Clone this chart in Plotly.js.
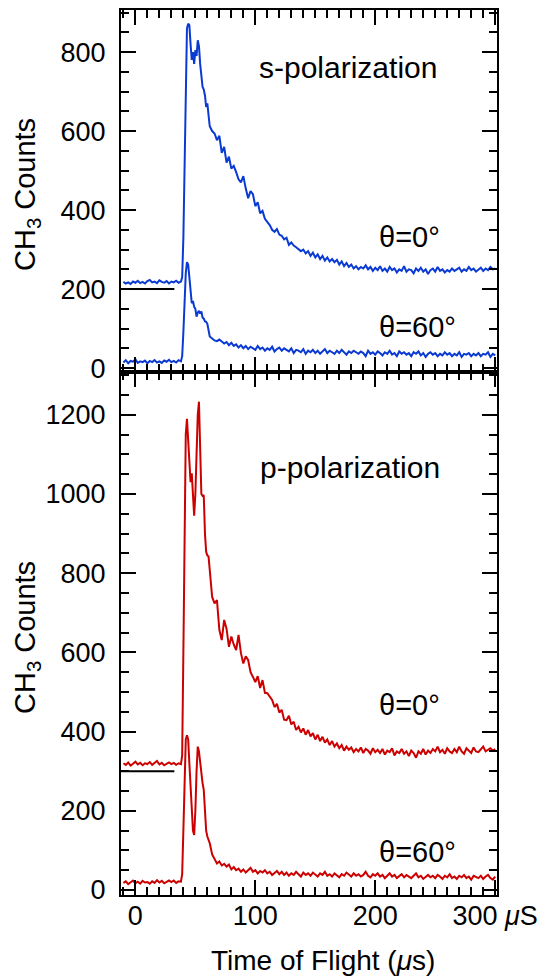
<!DOCTYPE html>
<html>
<head>
<meta charset="utf-8">
<script src="https://cdn.plot.ly/plotly-3.0.1.min.js"></script>
<style>html,body{margin:0;padding:0;background:#fff;}#chart{width:551px;height:979px;}</style>
</head>
<body>
<div id="chart"></div>
<script>
// Time of flight (microseconds)
const tof = [
  -10,-8,-6,-4,-2,0,2,4,6,8,
  10,12,14,16,18,20,22,24,26,28,
  30,32,34,36,38,39,40,41,42,43,
  44,45,46,47,48,49,50,51,52,53,
  54,55,56,57,58,59,60,61,62,64,
  66,68,70,72,74,76,78,80,82,84,
  86,88,90,92,94,96,98,100,102,104,
  106,108,110,112,114,116,118,120,122,124,
  126,128,130,132,134,136,138,140,142,144,
  146,148,150,152,154,156,158,160,162,164,
  166,168,170,172,174,176,178,180,182,184,
  186,188,190,192,194,196,198,200,202,204,
  206,208,210,212,214,216,218,220,222,224,
  226,228,230,232,234,236,238,240,242,244,
  246,248,250,252,254,256,258,260,262,264,
  266,268,270,272,274,276,278,280,282,284,
  286,288,290,292,294,296,298,300
];
// s-polarization, theta = 0 deg (offset by 200)
const s0 = [
  218,214,217,213,219,216,221,215,218,214,
  220,223,217,219,215,222,218,216,220,214,
  219,217,221,216,219,230,330,520,720,860,
  872,868,820,780,800,770,805,790,830,815,
  770,740,712,705,690,661,670,640,612,600,
  594,577,588,545,560,520,535,505,512,496,
  478,470,486,455,430,448,440,410,420,392,
  398,378,370,362,350,345,352,338,335,326,
  330,312,318,310,306,302,296,300,290,296,
  284,292,280,288,276,284,272,280,270,276,
  268,274,262,270,258,266,256,262,252,258,
  250,256,252,260,250,256,246,254,248,258,
  246,252,244,256,248,252,242,250,246,258,
  244,250,248,240,252,246,254,244,250,238,
  248,252,244,256,246,250,242,248,244,252,
  246,250,254,244,250,246,256,248,252,244,
  250,254,246,252,248,256,250,252
];
// s-polarization, theta = 60 deg
const s60 = [
  14,20,12,18,16,22,13,17,15,19,
  12,18,15,20,14,17,13,19,16,21,
  15,18,14,20,17,30,90,170,240,268,
  262,230,190,164,170,155,150,130,140,145,
  138,143,128,125,118,117,112,95,80,75,
  70,68,72,67,62,66,58,64,56,60,
  52,58,50,56,48,54,50,46,56,48,
  52,44,50,46,54,42,48,52,44,50,
  46,42,50,38,46,44,40,48,36,44,
  40,46,38,44,36,42,48,38,44,40,
  36,44,38,46,40,34,42,38,44,40,
  36,42,38,30,44,36,40,34,42,38,
  32,40,36,44,34,38,30,42,36,40,
  34,38,30,40,36,42,32,38,28,36,
  40,34,38,30,36,32,40,34,38,30,
  36,32,40,28,36,34,38,30,36,32,
  38,30,36,34,40,28,36,32
];
// p-polarization, theta = 0 deg (offset by 300)
const p0 = [
  320,316,322,314,319,324,317,321,315,320,
  318,323,316,320,326,317,321,315,319,322,
  318,321,316,320,318,340,600,900,1150,1190,
  1130,1080,1030,1052,990,945,1000,1120,1200,1233,
  1100,1000,995,997,900,854,845,842,808,740,
  724,732,657,631,682,660,614,640,620,606,
  644,598,572,590,581,550,538,525,540,510,
  530,498,497,488,480,462,470,448,455,430,
  429,440,418,425,404,412,398,408,392,404,
  388,396,380,392,376,387,372,380,366,376,
  362,370,358,366,352,362,354,360,348,356,
  350,360,346,356,352,344,358,348,354,346,
  356,342,352,348,358,340,350,346,356,344,
  350,338,352,346,334,350,344,356,342,352,
  346,356,350,362,348,354,344,358,350,346,
  356,348,362,350,344,358,352,346,360,350,
  348,356,362,350,354,358,352,356
];
// p-polarization, theta = 60 deg
const p60 = [
  18,22,15,20,24,17,21,16,23,19,
  20,16,22,18,25,19,23,17,21,24,
  20,24,18,22,21,40,150,300,380,391,
  380,320,250,193,150,139,200,300,362,350,
  320,290,270,253,200,150,135,125,118,90,
  78,67,72,62,66,59,64,52,58,50,
  54,46,52,44,50,56,46,50,42,48,
  44,50,42,46,38,44,48,40,46,38,
  44,36,42,38,46,40,34,44,38,42,
  36,44,40,34,42,38,46,36,40,34,
  42,38,32,40,36,44,38,34,42,36,
  40,34,38,46,36,32,40,36,42,34,
  38,30,36,42,34,38,30,36,40,32,
  38,34,30,36,42,32,36,28,34,38,
  32,36,30,38,34,28,36,32,40,30,
  34,28,36,32,38,30,34,26,36,32,
  30,36,28,34,38,30,26,34
];
const xTickVals = [0, 100, 200, 300];
const xTickText = ['0', '100', '200', '300 <i>μ</i>S'];
const sTickVals = [0, 200, 400, 600, 800];
const pTickVals = [0, 200, 400, 600, 800, 1000, 1200];

const BLUE = '#0a3ad2';
const RED = '#cc0000';
const FONT = 'Liberation Sans, Arial, Helvetica, sans-serif';

const traces = [
  {x: tof, y: s0, xaxis: 'x2', yaxis: 'y2', mode: 'lines', line: {color: BLUE, width: 2}, hoverinfo: 'none'},
  {x: tof, y: s60, xaxis: 'x2', yaxis: 'y2', mode: 'lines', line: {color: BLUE, width: 2}, hoverinfo: 'none'},
  {x: tof, y: p0, xaxis: 'x', yaxis: 'y', mode: 'lines', line: {color: RED, width: 2}, hoverinfo: 'none'},
  {x: tof, y: p60, xaxis: 'x', yaxis: 'y', mode: 'lines', line: {color: RED, width: 2}, hoverinfo: 'none'}
];

const axisCommon = {
  showline: true, linecolor: '#000', linewidth: 2, mirror: 'allticks',
  ticks: 'inside', ticklen: 15, tickwidth: 2, tickcolor: '#000',
  showgrid: false, zeroline: false,
  tickfont: {family: FONT, size: 27, color: '#000'}
};

const split = 523 / 885;

const layout = {
  width: 551, height: 979,
  margin: {l: 121, r: 54, t: 10, b: 84},
  paper_bgcolor: '#fff', plot_bgcolor: '#fff',
  showlegend: false,
  font: {family: FONT, color: '#000'},
  xaxis: Object.assign({}, axisCommon, {
    domain: [0, 1], anchor: 'y', range: [-12, 301.5],
    tickmode: 'array', tickvals: xTickVals, ticktext: xTickText,
    ticklabelstandoff: -4,
    minor: {ticks: 'inside', tick0: 0, dtick: 10, ticklen: 8, tickwidth: 2, tickcolor: '#000', showgrid: false}
  }),
  yaxis: Object.assign({}, axisCommon, {
    domain: [0, split], anchor: 'x', range: [-12.6, 1308],
    tickmode: 'array', tickvals: pTickVals,
    ticklabelstandoff: 8,
    minor: {ticks: 'inside', tick0: 0, dtick: 50, ticklen: 8, tickwidth: 2, tickcolor: '#000', showgrid: false}
  }),
  xaxis2: Object.assign({}, axisCommon, {
    domain: [0, 1], anchor: 'y2', range: [-12, 301.5],
    tickmode: 'array', tickvals: xTickVals, showticklabels: false,
    minor: {ticks: 'inside', tick0: 0, dtick: 10, ticklen: 8, tickwidth: 2, tickcolor: '#000', showgrid: false}
  }),
  yaxis2: Object.assign({}, axisCommon, {
    domain: [split, 1], anchor: 'x2', range: [-10, 906.5],
    tickmode: 'array', tickvals: sTickVals,
    ticklabelstandoff: 8,
    minor: {ticks: 'inside', tick0: 0, dtick: 50, ticklen: 8, tickwidth: 2, tickcolor: '#000', showgrid: false}
  }),
  shapes: [
    {type: 'line', xref: 'x2', yref: 'y2', x0: -12, x1: 32.5, y0: 200, y1: 200, line: {color: '#000', width: 2}},
    {type: 'line', xref: 'x', yref: 'y', x0: -12, x1: 32.5, y0: 300, y1: 300, line: {color: '#000', width: 2}}
  ],
  annotations: [
    {xref: 'x2', yref: 'y2', x: 177, y: 762, text: 's-polarization', showarrow: false, xanchor: 'center', yanchor: 'middle', font: {family: FONT, size: 30, color: '#000'}},
    {xref: 'x2', yref: 'y2', x: 201.5, y: 332, text: 'θ=0°', showarrow: false, xanchor: 'left', yanchor: 'middle', font: {family: FONT, size: 29, color: '#000'}},
    {xref: 'x2', yref: 'y2', x: 201.5, y: 104, text: 'θ=60°', showarrow: false, xanchor: 'left', yanchor: 'middle', font: {family: FONT, size: 29, color: '#000'}},
    {xref: 'x', yref: 'y', x: 179, y: 1068, text: 'p-polarization', showarrow: false, xanchor: 'center', yanchor: 'middle', font: {family: FONT, size: 30, color: '#000'}},
    {xref: 'x', yref: 'y', x: 201.5, y: 467, text: 'θ=0°', showarrow: false, xanchor: 'left', yanchor: 'middle', font: {family: FONT, size: 29, color: '#000'}},
    {xref: 'x', yref: 'y', x: 201.5, y: 96, text: 'θ=60°', showarrow: false, xanchor: 'left', yanchor: 'middle', font: {family: FONT, size: 29, color: '#000'}},
    {xref: 'paper', yref: 'paper', x: (27 - 121) / 376, y: 1 - (195 - 10) / 885, text: 'CH<sub>3</sub> Counts', textangle: -90, showarrow: false, xanchor: 'center', yanchor: 'middle', font: {family: FONT, size: 29, color: '#000'}},
    {xref: 'paper', yref: 'paper', x: (27 - 121) / 376, y: 1 - (638 - 10) / 885, text: 'CH<sub>3</sub> Counts', textangle: -90, showarrow: false, xanchor: 'center', yanchor: 'middle', font: {family: FONT, size: 29, color: '#000'}},
    {xref: 'paper', yref: 'paper', x: (323 - 121) / 376, y: 1 - (961 - 10) / 885, text: 'Time of Flight (<i>μ</i>s)', showarrow: false, xanchor: 'center', yanchor: 'middle', font: {family: FONT, size: 28, color: '#000'}}
  ]
};

Plotly.newPlot('chart', traces, layout, {staticPlot: true, displayModeBar: false});
</script>
</body>
</html>
